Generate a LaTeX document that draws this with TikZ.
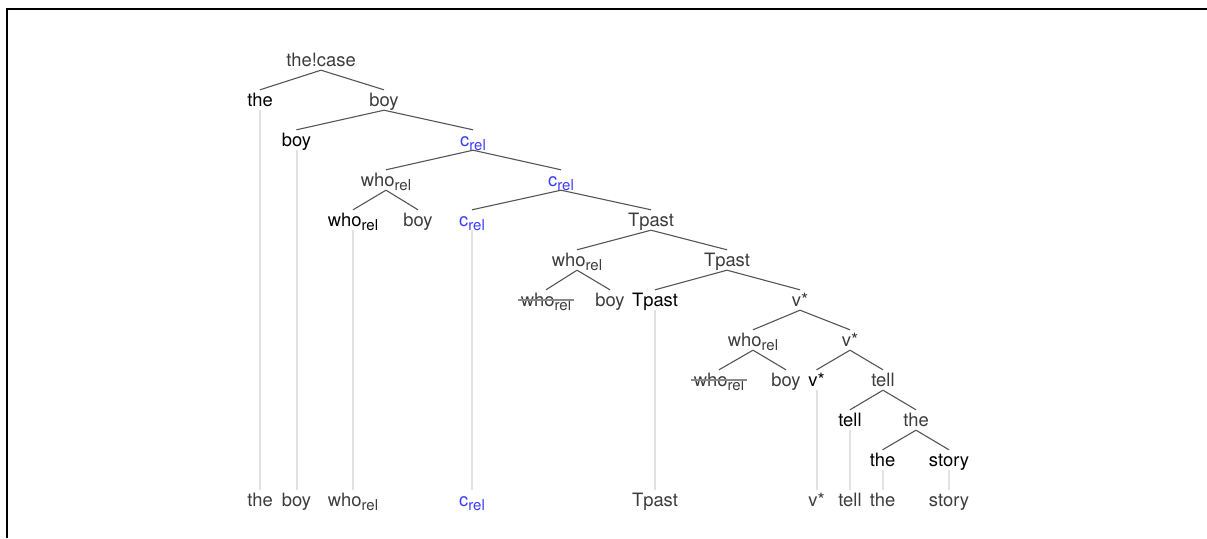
\documentclass[tikz,border=0pt]{standalone}
\usepackage{fontspec}
\setmainfont{TeX Gyre Heros}
\definecolor{labgray}{HTML}{3C3C3C}
\definecolor{edgegray}{HTML}{555555}
\definecolor{tracegray}{HTML}{E2E2E2}
\definecolor{strikegray}{HTML}{8A8A8A}
\definecolor{relblue}{HTML}{3A3AFF}
\newcommand{\relsub}{\raisebox{-4pt}{\fontsize{15}{15}\selectfont rel}}

\begin{document}
\begin{tikzpicture}[x=1pt,y=-1pt,
    lab/.style={font=\fontsize{18.4}{20}\selectfont, text=labgray, inner sep=0pt,
                minimum height=20pt, text height=16pt, text depth=4pt},
    leaf/.style={lab, text=black},
    crel/.style={lab, text=relblue},
    br/.style={draw=edgegray, line width=1.1pt},
    trace/.style={draw=tracegray, line width=2pt},
    strike/.style={draw=strikegray, line width=1.1pt, shorten <=-3pt, shorten >=-3pt}]
    \useasboundingbox (0,0) rectangle (1207,538);
    \draw[line width=2pt] (6.5,538) -- (6.5,9) -- (1207,9);

    % the tree
    \node[lab] (root) at (321,60) {the!case};
    \node[leaf] (the1) at (260,100) {the};
    \node[lab] (boy1) at (384,100) {boy};
    \node[leaf] (boy2) at (296.5,140) {boy};
    \node[crel] (c1) at (473,140) {c\relsub};
    \node[lab] (who1) at (386,180) {who\relsub};
    \node[crel] (c2) at (561,180) {c\relsub};
    \node[leaf] (who2) at (353,220) {who\relsub};
    \node[lab] (boy3) at (418,220) {boy};
    \node[crel] (c3) at (472,220) {c\relsub};
    \node[lab] (tp1) at (651,220) {Tpast};
    \node[lab] (who3) at (577,260) {who\relsub};
    \node[lab] (tp2) at (727,260) {Tpast};
    \node[lab] (who4) at (546,300) {who\relsub};
    \node[lab] (boy4) at (610,300) {boy};
    \node[leaf] (tp3) at (655,300) {Tpast};
    \node[lab] (v1) at (800,300) {v*};
    \node[lab] (who5) at (753,340) {who\relsub};
    \node[lab] (v2) at (850,340) {v*};
    \node[lab] (who6) at (719,380) {who\relsub};
    \node[lab] (boy5) at (786,380) {boy};
    \node[leaf] (v3) at (816.5,380) {v*};
    \node[lab] (tell1) at (883,380) {tell};
    \node[leaf] (tell2) at (850,420) {tell};
    \node[lab] (the2) at (916,420) {the};
    \node[leaf] (the3) at (882.5,460) {the};
    \node[leaf] (story) at (949,460) {story};

    % the words
    \node[lab] (bthe) at (260,500) {the};
    \node[lab] (bboy) at (296.5,500) {boy};
    \node[lab] (bwho) at (353,500) {who\relsub};
    \node[crel] (bc) at (472,500) {c\relsub};
    \node[lab] (btp) at (655,500) {Tpast};
    \node[lab] (bv) at (816.5,500) {v*};
    \node[lab] (btell) at (850,500) {tell};
    \node[lab] (bthe2) at (882.5,500) {the};
    \node[lab] (bstory) at (949,500) {story};

    \foreach \p/\c in {root/the1, root/boy1, boy1/boy2, boy1/c1, c1/who1, c1/c2,
                       who1/who2, who1/boy3, c2/c3, c2/tp1, tp1/who3, tp1/tp2,
                       who3/who4, who3/boy4, tp2/tp3, tp2/v1, v1/who5, v1/v2,
                       who5/who6, who5/boy5, v2/v3, v2/tell1, tell1/tell2,
                       tell1/the2, the2/the3, the2/story}
        \draw[br] (\p.south) -- (\c.north);
    \foreach \a/\b in {the1/bthe, boy2/bboy, who2/bwho, c3/bc, tp3/btp,
                       v3/bv, tell2/btell, the3/bthe2, story/bstory}
        \draw[trace] (\a.south) -- (\b.north);
    \draw[strike] (who4.west) -- (who4.east);
    \draw[strike] (who6.west) -- (who6.east);
\end{tikzpicture}
\end{document}
